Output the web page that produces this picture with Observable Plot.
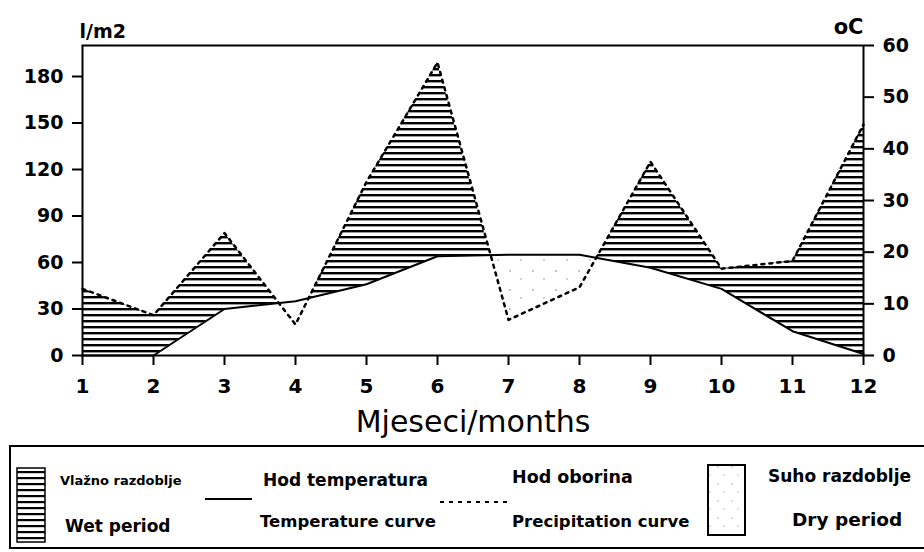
<!DOCTYPE html>
<html>
<head>
<meta charset="utf-8">
<script src="https://cdn.jsdelivr.net/npm/d3@7"></script>
<script src="https://cdn.jsdelivr.net/npm/@observablehq/plot@0.6"></script>
<style>
  html, body { margin: 0; padding: 0; background: #fff; overflow: hidden; }
  #chart svg { display: block; }
  #legend svg { display: block; }
  #chart g[aria-label$="tick label"] text { font-weight: bold; }
</style>
</head>
<body>
<div id="chart"></div>
<div id="legend"></div>
<script>
// ---- data ----
const months = [1, 2, 3, 4, 5, 6, 7, 8, 9, 10, 11, 12];
const precipitation = [43, 26, 79, 20, 112, 189, 23, 44, 125, 56, 61, 149]; // l/m2
const temperature = [0, 0, 9, 10.5, 13.8, 19.2, 19.5, 19.5, 17, 12.9, 4.7, 0.3]; // °C
const precipTicks = [0, 30, 60, 90, 120, 150, 180];
const tempTicks = [0, 10, 20, 30, 40, 50, 60];
const mmPerDegree = 10 / 3; // 60 °C on the right axis == 200 l/m2 on the left axis
const yMax = 200;

// ---- derived table ----
const rows = months.map((m, i) => ({ month: m, p: precipitation[i], t: temperature[i] * mmPerDegree }));
// add the crossing points of the two curves so wet / dry areas meet exactly
const edges = [];
rows.forEach((r, i) => {
  edges.push(r);
  const n = rows[i + 1];
  if (!n) return;
  const d0 = r.p - r.t, d1 = n.p - n.t;
  if (d0 * d1 < 0) {
    const f = d0 / (d0 - d1);
    edges.push({ month: r.month + f * (n.month - r.month), p: r.p + f * (n.p - r.p), t: r.t + f * (n.t - r.t) });
  }
});

const chart = Plot.plot({
  width: 924,
  height: 445,
  marginTop: 45,
  marginBottom: 90,
  marginLeft: 82,
  marginRight: 61,
  style: { fontFamily: "'DejaVu Sans', sans-serif", color: "#000", background: "transparent" },
  x: { domain: [1, 12] },
  y: { domain: [0, yMax] },
  marks: [
    Plot.areaY(edges, { x: "month", y1: "t", y2: d => Math.max(d.p, d.t), fill: "url(#wetHatch)" }),
    Plot.areaY(edges, { x: "month", y1: "t", y2: d => Math.min(d.p, d.t), fill: "url(#dryDots)" }),
    Plot.lineY(rows, { x: "month", y: "t", stroke: "#000", strokeWidth: 2 }),
    Plot.lineY(rows, { x: "month", y: "p", stroke: "#000", strokeWidth: 2.5, strokeDasharray: "3,5" }),
    Plot.frame({ stroke: "#000", strokeWidth: 2 }),
    Plot.axisX({ ticks: months, tickSize: 10, tickPadding: 13, fontSize: 20, fontWeight: "bold", label: null, strokeWidth: 2 }),
    Plot.axisY({ ticks: precipTicks, tickSize: 10, tickPadding: 9, fontSize: 19, fontWeight: "bold", label: null, strokeWidth: 2 }),
    Plot.axisY({
      anchor: "right",
      ticks: tempTicks.map(t => t * mmPerDegree),
      tickFormat: d => String(Math.round(d / mmPerDegree)),
      tickSize: 10, tickPadding: 9, fontSize: 19, fontWeight: "bold", label: null, strokeWidth: 2
    }),
    Plot.text(["l/m2"], { text: d => d, frameAnchor: "top-left", textAnchor: "start", dx: -3, dy: -21, fontSize: 19, fontWeight: "bold" }),
    Plot.text(["oC"], { text: d => d, frameAnchor: "top-right", textAnchor: "end", dy: -26, fontSize: 21, fontWeight: "bold" }),
    Plot.text(["Mjeseci/months"], { text: d => d, frameAnchor: "bottom", dy: 76, fontSize: 30 })
  ]
});

// patterns for the wet (hatched) and dry (stippled) areas
const defs = d3.select(chart).insert("defs", ":first-child");
defs.append("pattern").attr("id", "wetHatch").attr("patternUnits", "userSpaceOnUse")
  .attr("width", 8).attr("height", 6)
  .append("rect").attr("x", 0).attr("y", 2).attr("width", 8).attr("height", 2.4).attr("fill", "#000");
const dp = defs.append("pattern").attr("id", "dryDots").attr("patternUnits", "userSpaceOnUse")
  .attr("width", 23).attr("height", 19);
dp.append("circle").attr("cx", 4).attr("cy", 5).attr("r", 0.9).attr("fill", "#aaa");
dp.append("circle").attr("cx", 15).attr("cy", 13).attr("r", 0.9).attr("fill", "#bbb");

document.getElementById("chart").appendChild(chart);

// ---- legend (below the plot) ----
document.getElementById("legend").innerHTML = `
<svg width="924" height="107" font-family="'DejaVu Sans', sans-serif" font-weight="bold" fill="#000">
  <defs>
    <pattern id="legHatch" patternUnits="userSpaceOnUse" width="8" height="6">
      <rect x="0" y="2" width="8" height="2.2" fill="#000"/>
    </pattern>
    <pattern id="legDots" patternUnits="userSpaceOnUse" width="14" height="17">
      <circle cx="4" cy="5" r="0.8" fill="#aaa"/>
      <circle cx="10" cy="13" r="0.8" fill="#bbb"/>
    </pattern>
  </defs>
  <rect x="10" y="1" width="930" height="102" fill="none" stroke="#000" stroke-width="2"/>
  <rect x="17" y="23" width="28" height="74" fill="url(#legHatch)" stroke="#000" stroke-width="1.5"/>
  <text x="60" y="40" font-size="13">Vlažno razdoblje</text>
  <text x="65" y="87" font-size="17">Wet period</text>
  <line x1="205" x2="252" y1="54" y2="54" stroke="#000" stroke-width="2"/>
  <text x="263" y="41" font-size="17">Hod temperatura</text>
  <text x="260" y="82" font-size="16.5">Temperature curve</text>
  <line x1="440" x2="507" y1="57" y2="57" stroke="#000" stroke-width="2" stroke-dasharray="4,5"/>
  <text x="512" y="38" font-size="17.5">Hod oborina</text>
  <text x="512" y="82" font-size="16.5">Precipitation curve</text>
  <rect x="708" y="20" width="37" height="70" fill="url(#legDots)" stroke="#000" stroke-width="2"/>
  <text x="768" y="37" font-size="17">Suho razdoblje</text>
  <text x="792" y="81" font-size="18.5">Dry period</text>
</svg>`;
</script>
</body>
</html>
